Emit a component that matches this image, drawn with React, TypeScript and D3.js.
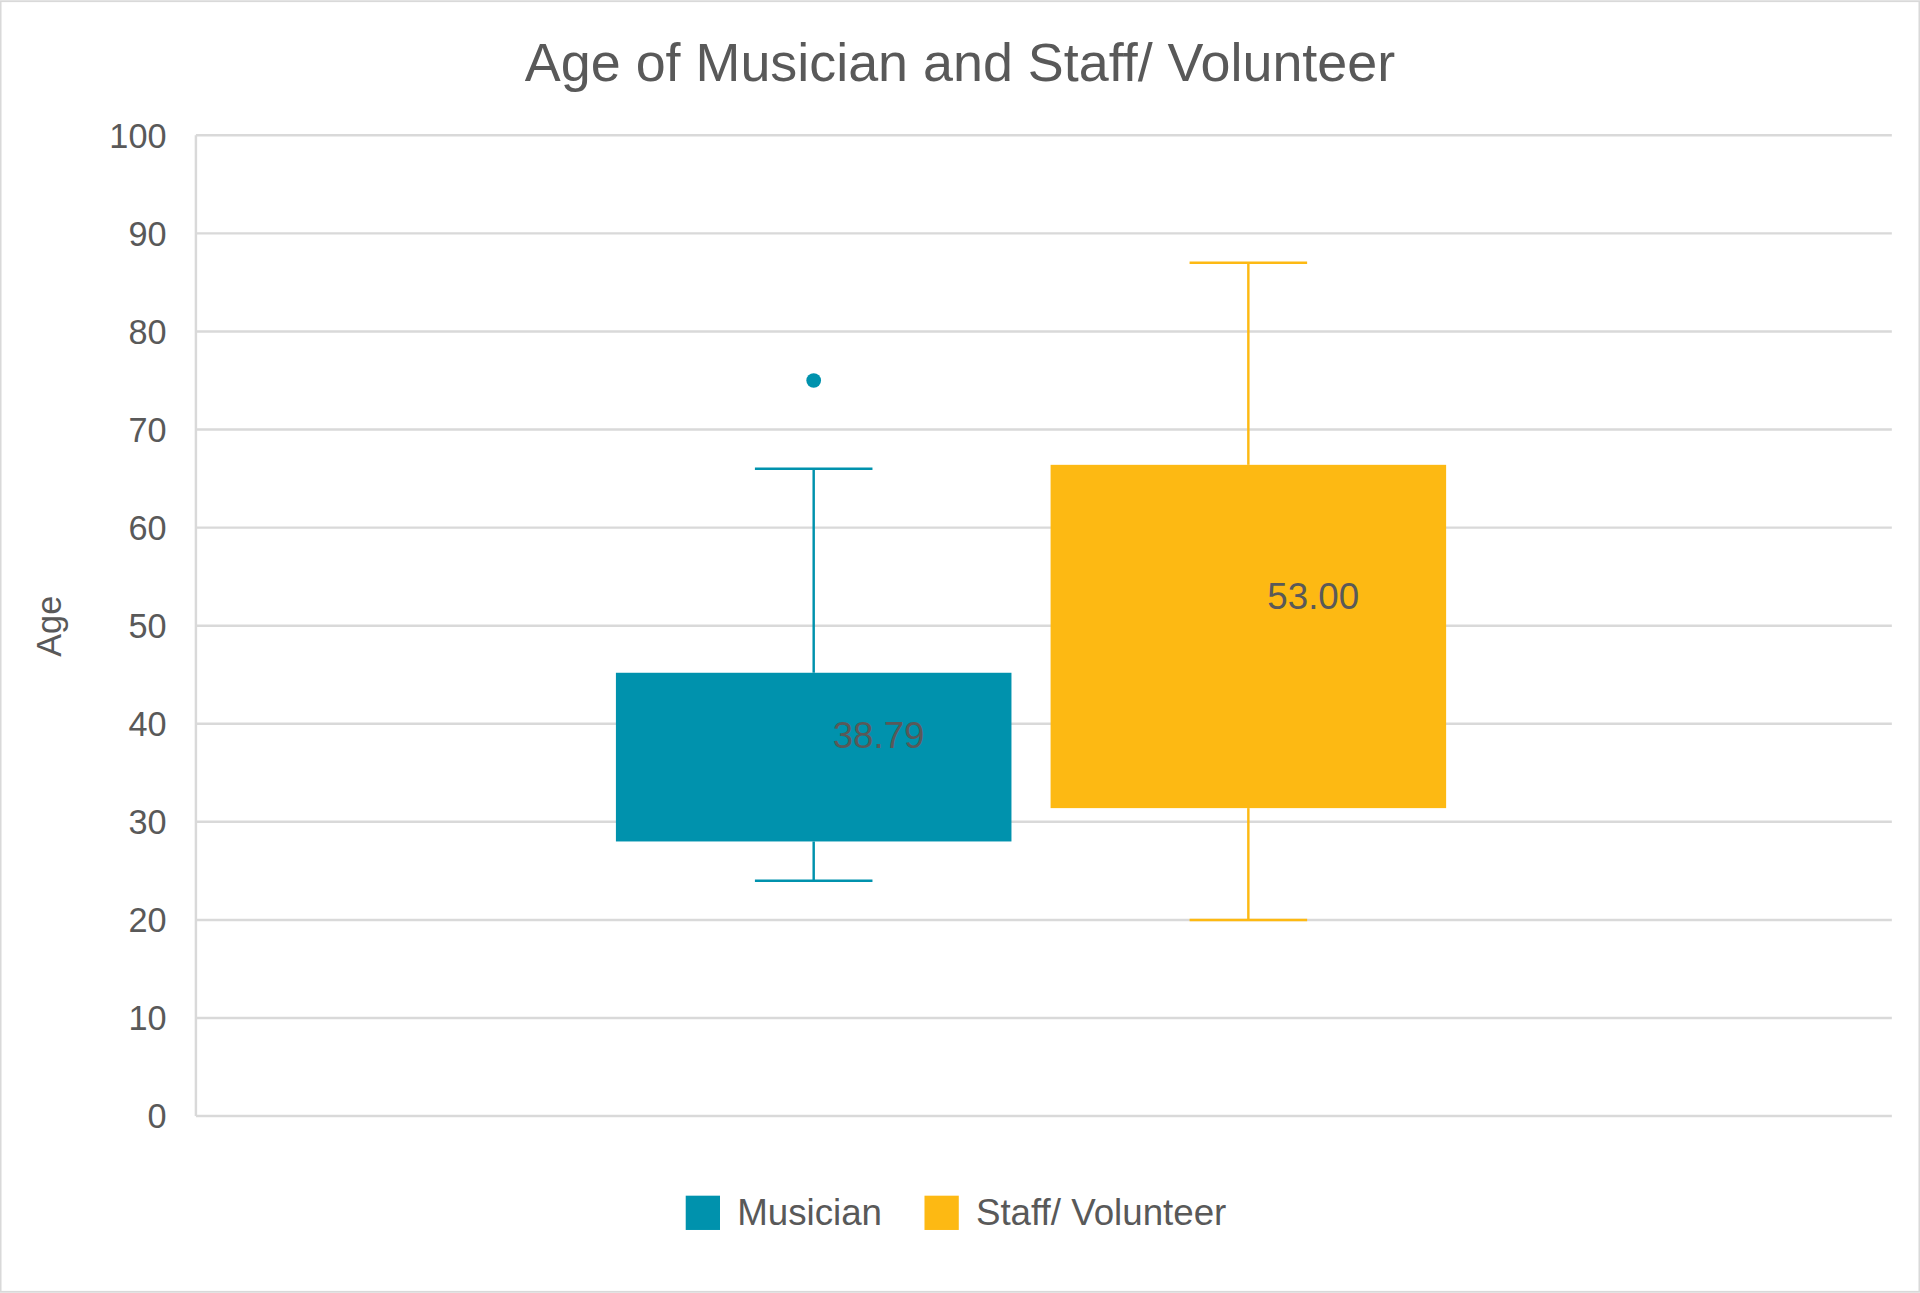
import React from "react";
import * as d3 from "d3";

const categories = ["Musician", "Staff/ Volunteer"];
const colors = ["#0092AD", "#FDB913"];
const whiskerLow = [24, 20];
const q1 = [28, 31.4];
const q3 = [45.2, 66.4];
const whiskerHigh = [66, 87];
const meanLabels = [38.79, 53.0];
const outliers = [[75], []];
const yTicks = [0, 10, 20, 30, 40, 50, 60, 70, 80, 90, 100];

export default function App() {
  const W = 1568, H = 1055;
  const y = d3.scaleLinear().domain([0, 100]).range([911, 110]);
  const x = d3.scaleBand().domain(categories).range([503, 1181]).paddingInner(0.09);
  const bw = x.bandwidth();
  const font = "Liberation Sans, Arial, sans-serif";
  const txt = "#595959";
  return (
    <div style={{ position: "absolute", left: 0, top: 0 }}>
      <svg width={1920} height={1293} viewBox={`0 0 ${W} ${H}`} style={{ display: "block" }}>
        <rect x={0.5} y={0.5} width={W - 1} height={H - 1} fill="#fff" stroke="#d9d9d9" strokeWidth={1.5} />
        <text x={784} y={66} textAnchor="middle" fontFamily={font} fontSize={44} fill={txt}>Age of Musician and Staff/ Volunteer</text>
        {yTicks.map(t => (
          <g key={t}>
            <line x1={160} x2={1545} y1={y(t)} y2={y(t)} stroke="#d9d9d9" strokeWidth={2} />
            <text x={136} y={y(t) + 10} textAnchor="end" fontFamily={font} fontSize={28} fill={txt}>{t}</text>
          </g>
        ))}
        <line x1={160} x2={160} y1={110} y2={911} stroke="#d9d9d9" strokeWidth={2} />
        <text transform={`translate(50,511) rotate(-90)`} textAnchor="middle" fontFamily={font} fontSize={28} fill={txt}>Age</text>
        {categories.map((c, i) => {
          const x0 = x(c)!; const cx = x0 + bw / 2;
          return (
            <g key={c}>
              <line x1={cx} x2={cx} y1={y(whiskerHigh[i])} y2={y(q3[i])} stroke={colors[i]} strokeWidth={2} />
              <line x1={cx} x2={cx} y1={y(q1[i])} y2={y(whiskerLow[i])} stroke={colors[i]} strokeWidth={2} />
              <line x1={cx - 48} x2={cx + 48} y1={y(whiskerHigh[i])} y2={y(whiskerHigh[i])} stroke={colors[i]} strokeWidth={2} />
              <line x1={cx - 48} x2={cx + 48} y1={y(whiskerLow[i])} y2={y(whiskerLow[i])} stroke={colors[i]} strokeWidth={2} />
              <rect x={x0} y={y(q3[i])} width={bw} height={y(q1[i]) - y(q3[i])} fill={colors[i]} />
              {outliers[i].map((o, j) => <circle key={j} cx={cx} cy={y(o)} r={6} fill={colors[i]} />)}
              <text x={cx + 53} y={y(meanLabels[i]) + 10 - (i === 0 ? 0 : 0)} textAnchor="middle" fontFamily={font} fontSize={30} fill={txt}>{meanLabels[i].toFixed(2)}</text>
            </g>
          );
        })}
        {categories.map((c, i) => {
          const lx = [560, 755][i];
          return (
            <g key={c}>
              <rect x={lx} y={976} width={28} height={28} fill={colors[i]} />
              <text x={lx + 42} y={1000} fontFamily={font} fontSize={30} fill={txt}>{c}</text>
            </g>
          );
        })}
      </svg>
    </div>
  );
}
